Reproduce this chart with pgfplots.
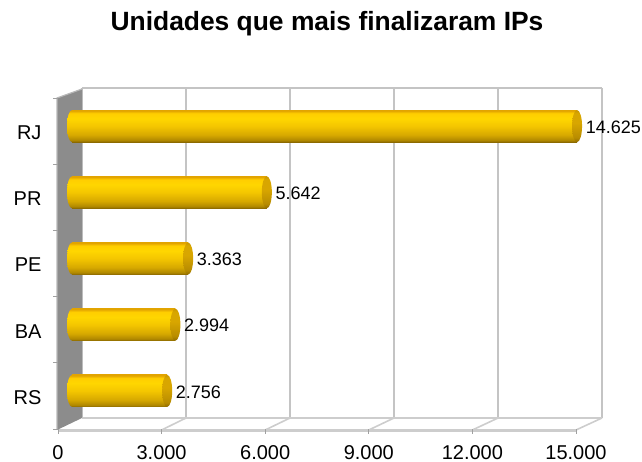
\documentclass[border=0pt]{standalone}
\usepackage{pgfplots}
\pgfplotsset{compat=1.18}
\usepackage{fontspec}
\setmainfont{Liberation Sans}
\definecolor{gridc}{HTML}{C4C4C4}
\definecolor{wallc}{HTML}{8C8C8C}
\definecolor{walledge}{HTML}{B8B8B8}
\definecolor{floorc}{HTML}{CDCDCD}
\definecolor{tickc}{HTML}{A0A0A0}
\definecolor{g0}{HTML}{8A6800}
\definecolor{g1}{HTML}{B08800}
\definecolor{g2}{HTML}{D6A800}
\definecolor{g3}{HTML}{F4C600}
\definecolor{g4}{HTML}{FFD600}
\definecolor{g5}{HTML}{FFCE00}
\definecolor{g6}{HTML}{E2A400}
\definecolor{c0}{HTML}{8E6A00}
\definecolor{c1}{HTML}{B88C00}
\definecolor{c2}{HTML}{D8A600}
\definecolor{c3}{HTML}{C89600}
\pgfdeclareverticalshading{goldcyl}{100bp}{color(0bp)=(g0); color(25bp)=(g0); color(28bp)=(g1); color(36bp)=(g2); color(50bp)=(g3); color(62bp)=(g4); color(70bp)=(g5); color(74bp)=(g6); color(75bp)=(g6); color(100bp)=(g6)}
\pgfdeclareverticalshading{goldcap}{100bp}{color(0bp)=(c0); color(25bp)=(c0); color(32bp)=(c1); color(55bp)=(c2); color(70bp)=(c2); color(75bp)=(c3); color(100bp)=(c3)}
\pgfdeclareplotmark{cylstart}{%
  \pgfpathellipse{\pgfpointorigin}{\pgfqpoint{5pt}{0pt}}{\pgfqpoint{0pt}{16pt}}%
  \pgfshadepath{goldcyl}{0}\pgfusepath{}}
\pgfdeclareplotmark{cylend}{%
  \pgfpathellipse{\pgfpointorigin}{\pgfqpoint{5pt}{0pt}}{\pgfqpoint{0pt}{16pt}}%
  \pgfshadepath{goldcap}{0}\pgfusepath{}}
\pgfplotsset{
  baraxis/.style={at={(72pt,38pt)}, anchor=south west, scale only axis, width=518pt, height=331pt,
    xmin=0, xmax=15000, ymin=-0.5, ymax=4.5, hide axis, clip=false,
    /pgf/number format/.cd, 1000 sep={.}, assume math mode=true, /pgfplots/.cd},
  onebar/.style={xbar, bar width=32pt, draw=none, shading=goldcyl, shade}
}
\begin{document}
\begin{tikzpicture}[x=1pt,y=1pt]
\useasboundingbox (0,0) rectangle (642,462);
% title
\node[anchor=base, font=\bfseries\fontsize{26.4}{30}\selectfont, inner sep=0] at (327,431) {Unidades que mais finalizaram IPs};
% back wall grid
\begin{axis}[at={(82pt,44pt)}, anchor=south west, scale only axis, width=520pt, height=330pt,
  xmin=0, xmax=15000, ymin=-0.5, ymax=4.5, scaled x ticks=false,
  axis x line*=top, axis y line*=right, axis line style={draw=gridc, line width=2.2pt},
  xtick={0,3000,6000,9000,12000,15000}, xticklabels={}, ytick=\empty,
  major tick length=0pt, xmajorgrids, grid style={draw=gridc, line width=2.4pt}]
\addplot[draw=none] coordinates {(0,0)};
\end{axis}
% floor
\draw[floorc, line width=1.8pt] (82,44) -- (602,44);
\foreach \k in {1,...,5} {
  \draw[floorc, line width=1.6pt] ({58+\k*103.6},32) -- ({82+\k*104},44);
}
\draw[floorc, line width=3pt] (58,31) -- (576,31);
% left wall
\fill[wallc] (57,364) -- (82,373) -- (82,44) -- (57,32) -- cycle;
\draw[walledge, line width=1.2pt] (57,32) -- (57,364) -- (82,373);
% front axis with labels
\begin{axis}[at={(58pt,33pt)}, anchor=south west, scale only axis, width=518pt, height=331pt,
  xmin=0, xmax=15000, ymin=-0.5, ymax=4.5,
  axis x line*=bottom, axis y line*=left,
  axis line style={draw=none},
  tick align=outside, major tick length=5pt,
  tick style={draw=tickc, line width=0.8pt},
  scaled x ticks=false,
  /pgf/number format/.cd, 1000 sep={.}, assume math mode=true, /pgfplots/.cd,
  xtick={0,3000,6000,9000,12000,15000},
  xticklabel style={font=\fontsize{20}{24}\selectfont, inner sep=0pt, yshift=-11pt},
  ytick={-0.5,0.5,1.5,2.5,3.5,4.5}, yticklabels={},
  extra y ticks={0,1,2,3,4},
  extra y tick labels={RS,BA,PE,PR,RJ},
  extra y tick style={major tick length=0pt, yticklabel style={font=\fontsize{20}{24}\selectfont, xshift=-13pt, yshift=-1.5pt}}]
\addplot[draw=none] coordinates {(0,0)};
\end{axis}
% left ends of the cylinders
\begin{axis}[baraxis]
\addplot[only marks, mark=cylstart]
  coordinates {(0,0) (0,1) (0,2) (0,3) (0,4)};
\end{axis}
% bars
\begin{axis}[baraxis]
\addplot[onebar] coordinates {(2756,0)};
\addplot[onebar] coordinates {(2994,1)};
\addplot[onebar] coordinates {(3363,2)};
\addplot[onebar] coordinates {(5642,3)};
\addplot[onebar] coordinates {(14625,4)};
\end{axis}
% end caps and values
\begin{axis}[baraxis]
\addplot[only marks, mark=cylend,
  point meta=x, nodes near coords,
  every node near coord/.append style={anchor=west, inner sep=0pt, xshift=8.5pt, yshift=-1pt, font=\fontsize{18}{22}\selectfont, text=black}]
  coordinates {(2756,0) (2994,1) (3363,2) (5642,3) (14625,4)};
\end{axis}
\end{tikzpicture}
\end{document}
